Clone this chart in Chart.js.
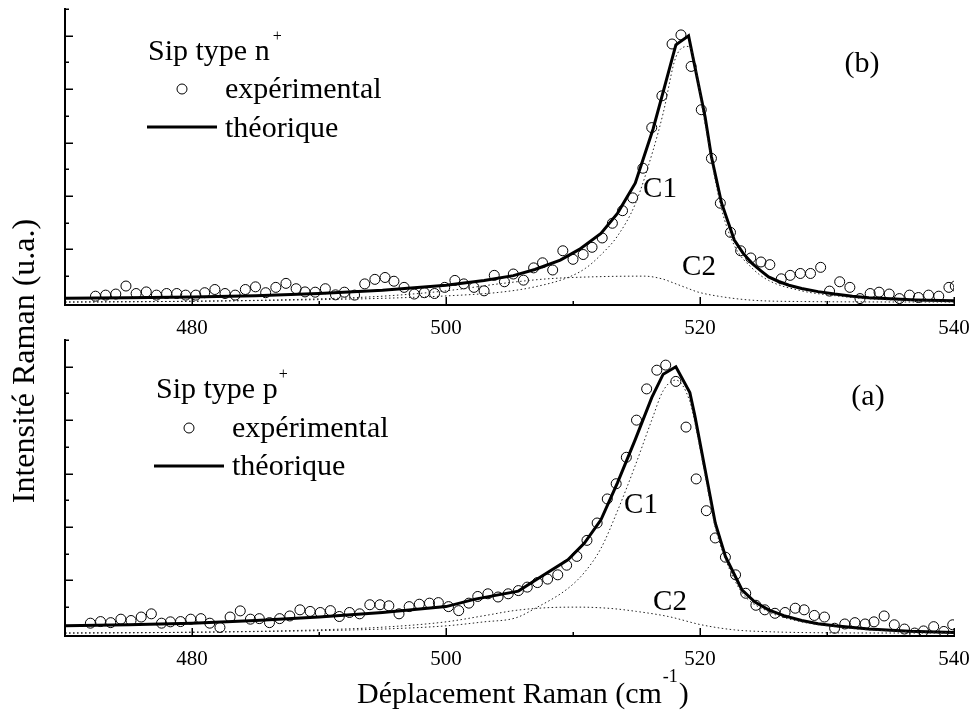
<!DOCTYPE html>
<html>
<head>
<meta charset="utf-8">
<title>Spectres Raman - Sip type n+ / p+</title>
<script src="https://cdn.jsdelivr.net/npm/chart.js@4.4.1/dist/chart.umd.min.js"></script>
<style>
  html, body { margin: 0; padding: 0; background: #fff; }
  #wrap { position: relative; width: 972px; height: 720px; }
  #wrap canvas { position: absolute; left: 0; top: 0; }
</style>
</head>
<body>
<div id="wrap">
  <canvas id="panelB" width="972" height="720"></canvas>
  <canvas id="panelA" width="972" height="720"></canvas>
</div>
<script>
// ---------- Axis ticks ----------
const xTickLabels = [480, 500, 520, 540];

// ---------- (b) Sip type n+ ----------
const nExpX = [472.4, 473.2, 474.0, 474.8, 475.6, 476.4, 477.2, 478.0, 478.8, 479.5,
  480.3, 481.0, 481.8, 482.6, 483.4, 484.2, 485.0, 485.8, 486.6, 487.4,
  488.2, 488.9, 489.7, 490.5, 491.3, 492.0, 492.8, 493.6, 494.4, 495.2,
  495.9, 496.7, 497.5, 498.3, 499.1, 499.9, 500.7, 501.4, 502.2, 503.0,
  503.8, 504.6, 505.3, 506.1, 506.9, 507.6, 508.4, 509.2, 510.0, 510.8,
  511.5, 512.3, 513.1, 513.9, 514.7, 515.5, 516.2, 517.0, 517.8, 518.5,
  519.3, 520.1, 520.9, 521.6, 522.4, 523.2, 524.0, 524.8, 525.5, 526.4,
  527.1, 527.9, 528.7, 529.5, 530.2, 531.0, 531.8, 532.6, 533.4, 534.1,
  534.9, 535.7, 536.5, 537.2, 538.0, 538.8, 539.6, 540.1];
const nExpY = [0.25, 0.29, 0.33, 0.63, 0.35, 0.41, 0.29, 0.35, 0.35, 0.29,
  0.29, 0.38, 0.50, 0.35, 0.29, 0.50, 0.60, 0.38, 0.58, 0.73,
  0.53, 0.41, 0.40, 0.53, 0.30, 0.40, 0.29, 0.71, 0.88, 0.95,
  0.81, 0.58, 0.33, 0.38, 0.35, 0.58, 0.84, 0.71, 0.58, 0.45,
  1.03, 0.79, 1.08, 0.85, 1.31, 1.50, 1.23, 1.95, 1.63, 1.81,
  2.08, 2.43, 2.98, 3.45, 3.93, 5.04, 6.56, 7.75, 9.69, 10.03,
  8.85, 7.23, 5.41, 3.73, 2.64, 1.95, 1.68, 1.53, 1.43, 0.90,
  1.03, 1.10, 1.10, 1.33, 0.44, 0.79, 0.58, 0.16, 0.35, 0.40,
  0.33, 0.16, 0.29, 0.20, 0.29, 0.25, 0.58, 0.63];

const nFitX = [470, 475, 480, 485, 490, 495, 500, 503, 505.3, 507, 509, 510.5, 512.2, 513.5,
  514.9, 516.3, 517.1, 518.1, 519.1, 520.4, 520.9, 521.7, 522.7, 523.4, 524.1, 524.8,
  525.4, 526.2, 527.0, 528.0, 529.3, 530.6, 532.0, 533.3, 535.0, 537.0, 540];
const nFitY = [0.17, 0.19, 0.22, 0.27, 0.35, 0.47, 0.66, 0.84, 1.02, 1.25, 1.60, 2.00, 2.60, 3.35,
  4.48, 6.50, 7.90, 9.66, 10.00, 6.97, 5.47, 3.73, 2.35, 1.85, 1.48, 1.20,
  0.97, 0.80, 0.66, 0.54, 0.42, 0.33, 0.25, 0.19, 0.15, 0.11, 0.08];

const nC1X = [470, 480, 490, 495, 500, 504.3, 507, 509.6, 511, 512.2, 513.5, 514.9, 516.3,
  517.1, 518.1, 519.1, 520.4, 521.0, 521.7, 522.7, 524.1, 525.4, 528, 530.6, 533.3, 540];
const nC1Y = [0.03, 0.06, 0.12, 0.17, 0.26, 0.40, 0.60, 0.95, 1.30, 1.80, 2.50, 3.70, 5.70,
  7.10, 9.20, 9.60, 6.70, 5.10, 3.50, 2.15, 1.30, 0.84, 0.45, 0.27, 0.15, 0.05];

const nC2X = [470, 480, 490, 495, 500, 504.3, 508, 512, 515.6, 517, 518, 519, 519.8, 521.7, 524.1, 528, 540];
const nC2Y = [0.03, 0.06, 0.15, 0.25, 0.45, 0.72, 0.90, 0.98, 1.00, 0.90, 0.73, 0.55, 0.41, 0.23, 0.10, 0.05, 0.03];

// ---------- (a) Sip type p+ ----------
const pExpX = [472.0, 472.8, 473.6, 474.4, 475.2, 476.0, 476.8, 477.6, 478.3, 479.1,
  479.9, 480.7, 481.4, 482.2, 483.0, 483.8, 484.6, 485.3, 486.1, 486.9,
  487.7, 488.5, 489.3, 490.1, 490.9, 491.6, 492.4, 493.2, 494.0, 494.8,
  495.5, 496.3, 497.1, 497.9, 498.7, 499.4, 500.2, 501.0, 501.8, 502.5,
  503.3, 504.1, 504.9, 505.7, 506.4, 507.2, 508.0, 508.8, 509.5, 510.3,
  511.1, 511.9, 512.7, 513.4, 514.2, 515.0, 515.8, 516.6, 517.3, 518.1,
  518.9, 519.7, 520.5, 521.2, 522.0, 522.8, 523.6, 524.4, 525.1, 525.9,
  526.7, 527.5, 528.2, 529.0, 529.8, 530.6, 531.4, 532.2, 533.0, 533.7,
  534.5, 535.3, 536.1, 536.9, 537.6, 538.4, 539.2, 539.9];
const pExpY = [0.40, 0.46, 0.42, 0.55, 0.50, 0.63, 0.75, 0.40, 0.45, 0.46,
  0.55, 0.57, 0.40, 0.24, 0.63, 0.86, 0.55, 0.57, 0.42, 0.57,
  0.67, 0.90, 0.84, 0.80, 0.87, 0.65, 0.80, 0.75, 1.09, 1.09,
  1.05, 0.75, 1.02, 1.11, 1.15, 1.17, 1.02, 0.87, 1.15, 1.40,
  1.50, 1.38, 1.50, 1.62, 1.75, 1.92, 2.05, 2.21, 2.57, 2.90,
  3.50, 4.15, 5.05, 5.62, 6.61, 8.00, 9.17, 9.87, 10.06, 9.45,
  7.74, 5.80, 4.61, 3.59, 2.87, 2.21, 1.52, 1.07, 0.90, 0.77,
  0.80, 0.96, 0.90, 0.69, 0.63, 0.21, 0.37, 0.42, 0.37, 0.45,
  0.67, 0.34, 0.18, 0.03, 0.11, 0.27, 0.09, 0.34];

const pFitX = [470, 475, 480, 485, 490, 495, 500, 502.3, 505.7, 507, 509.6, 510.9, 512.2, 513.5,
  514.9, 516.2, 517.1, 518.1, 519.2, 519.6, 520.4, 521.2, 522.0, 523.3, 524.3, 525.4,
  526.6, 528.0, 529.3, 530.6, 533.3, 536.5, 540];
const pFitY = [0.30, 0.34, 0.40, 0.50, 0.63, 0.80, 1.02, 1.30, 1.60, 2.00, 2.77, 3.40, 4.27, 5.65,
  7.27, 8.84, 9.72, 10.00, 9.03, 8.15, 6.15, 4.15, 2.90, 1.65, 1.20, 0.90,
  0.68, 0.50, 0.38, 0.30, 0.18, 0.10, 0.05];

const pC1X = [470, 480, 490, 495, 500, 503, 505.5, 507, 509.6, 510.9, 512.2, 513.5, 514.9, 516.2,
  517.1, 518.1, 519.2, 519.6, 520.4, 521.2, 522.0, 523.3, 525.4, 528, 530.6, 533.3, 540];
const pC1Y = [0.03, 0.06, 0.12, 0.18, 0.30, 0.45, 0.60, 0.95, 1.70, 2.30, 3.20, 4.60, 6.30, 8.00,
  9.10, 9.50, 8.70, 7.90, 5.95, 4.00, 2.80, 1.55, 0.83, 0.45, 0.27, 0.15, 0.04];

const pC2X = [470, 480, 490, 495, 500, 503, 505.5, 508, 510.5, 513, 515, 517.5, 520.1, 522.7, 525.4, 530, 540];
const pC2Y = [0.03, 0.06, 0.15, 0.25, 0.45, 0.68, 0.88, 0.98, 1.00, 0.95, 0.84, 0.65, 0.34, 0.15, 0.08, 0.04, 0.03];

// ---------- drawing helpers ----------
const SERIF = '"Liberation Serif", "Times New Roman", "DejaVu Serif", serif';
const AXIS_H = 40;
const toPoints = (xs, ys) => xs.map((x, i) => ({ x: x, y: ys[i] }));

// Tick marks pointing into the plot area, long on labelled values
const innerTicks = {
  id: 'innerTicks',
  afterDraw(chart) {
    const { ctx, chartArea: a, scales: { x, y } } = chart;
    ctx.save();
    ctx.strokeStyle = '#000';
    ctx.lineWidth = 1.5;
    ctx.beginPath();
    x.ticks.forEach(t => {
      const px = Math.round(x.getPixelForValue(t.value)) + 0.25;
      const len = xTickLabels.includes(t.value) ? 8 : 4;
      ctx.moveTo(px, a.bottom);
      ctx.lineTo(px, a.bottom - len);
    });
    y.ticks.forEach(t => {
      if (Math.abs(t.value - Math.round(t.value)) > 1e-6) return;
      const py = Math.round(y.getPixelForValue(t.value)) + 0.25;
      const len = Math.round(t.value) % 2 === 0 ? 8 : 4;
      ctx.moveTo(a.left, py);
      ctx.lineTo(a.left + len, py);
    });
    ctx.stroke();
    ctx.restore();
  }
};

function textWithSup(ctx, base, sup, x, y, size, supSize, rise, gap, tail) {
  ctx.font = size + 'px ' + SERIF;
  ctx.fillText(base, x, y);
  let cx = x + ctx.measureText(base).width + gap;
  ctx.font = supSize + 'px ' + SERIF;
  ctx.fillText(sup, cx, y - rise);
  cx += ctx.measureText(sup).width;
  if (tail) {
    ctx.font = size + 'px ' + SERIF;
    ctx.fillText(tail, cx + 1, y);
  }
}

// Legend block, component labels and panel letter drawn inside each panel
function panelText(cfg) {
  return {
    id: 'panelText',
    afterDraw(chart) {
      const ctx = chart.ctx;
      ctx.save();
      ctx.fillStyle = '#000';
      ctx.strokeStyle = '#000';
      ctx.textAlign = 'left';
      ctx.textBaseline = 'alphabetic';
      const L = cfg.legend;
      textWithSup(ctx, L.title, '+', L.tx, L.ty, 30, 16, 19, L.supGap);
      ctx.lineWidth = 1;
      ctx.beginPath();
      ctx.arc(L.cx, L.cy, 5, 0, Math.PI * 2);
      ctx.stroke();
      ctx.font = '30px ' + SERIF;
      ctx.fillText('expérimental', L.ex, L.ey);
      ctx.lineWidth = 3;
      ctx.beginPath();
      ctx.moveTo(L.lx1, L.ly);
      ctx.lineTo(L.lx2, L.ly);
      ctx.stroke();
      ctx.fillText('théorique', L.ex, L.thy);
      ctx.textAlign = 'center';
      ctx.textBaseline = 'middle';
      cfg.marks.forEach(m => {
        ctx.font = m.size + 'px ' + SERIF;
        ctx.fillText(m.text, m.x, m.y);
      });
      if (cfg.titles) {
        // y axis title shared by both panels
        ctx.save();
        ctx.translate(34, 361);
        ctx.rotate(-Math.PI / 2);
        ctx.textAlign = 'center';
        ctx.textBaseline = 'alphabetic';
        ctx.font = '32px ' + SERIF;
        ctx.fillText('Intensité Raman (u.a.)', 0, 0);
        ctx.restore();
        // x axis title with superscript unit
        ctx.textAlign = 'left';
        ctx.textBaseline = 'alphabetic';
        textWithSup(ctx, 'Déplacement Raman (cm', '-1', 357, 703, 30, 18, 21, 1, ')');
      }
      ctx.restore();
    }
  };
}

function buildPanel(id, d, area, cfg) {
  return new Chart(document.getElementById(id), {
    type: 'scatter',
    data: {
      datasets: [
        { label: 'C1', data: toPoints(d.c1x, d.c1y), showLine: true, borderColor: '#222',
          borderWidth: 1, borderDash: [1.5, 2.5], pointRadius: 0, cubicInterpolationMode: 'monotone' },
        { label: 'C2', data: toPoints(d.c2x, d.c2y), showLine: true, borderColor: '#222',
          borderWidth: 1, borderDash: [1.5, 2.5], pointRadius: 0, cubicInterpolationMode: 'monotone' },
        { label: 'théorique', data: toPoints(d.fitx, d.fity), showLine: true, borderColor: '#000',
          borderWidth: 3, pointRadius: 0, tension: 0 },
        { label: 'expérimental', data: toPoints(d.expx, d.expy), showLine: false,
          pointStyle: 'circle', pointRadius: 5, pointBorderWidth: 1,
          pointBorderColor: '#000', pointBackgroundColor: 'rgba(0,0,0,0)' }
      ]
    },
    options: {
      responsive: false,
      animation: false,
      devicePixelRatio: 1,
      events: [],
      layout: { padding: { left: area.left, right: 972 - area.right, top: area.top, bottom: 720 - area.bottom - AXIS_H } },
      plugins: { legend: { display: false }, tooltip: { enabled: false } },
      scales: {
        x: {
          type: 'linear', min: 470, max: 540,
          grid: { display: false },
          border: { display: true, color: '#000', width: 2 },
          ticks: {
            stepSize: 10, autoSkip: false, maxRotation: 0, padding: 3, color: '#000',
            font: { family: SERIF, size: 21 },
            callback: v => xTickLabels.includes(v) ? String(v) : ''
          },
          afterFit: s => { s.height = AXIS_H; s.paddingLeft = 0; s.paddingRight = 0; }
        },
        y: {
          type: 'linear', min: -0.08, max: 11,
          grid: { display: false },
          border: { display: true, color: '#000', width: 2 },
          ticks: { display: false, stepSize: 1 },
          afterFit: s => { s.width = 0; s.paddingTop = 0; s.paddingBottom = 0; }
        }
      }
    },
    plugins: [innerTicks, panelText(cfg)]
  });
}

buildPanel('panelB',
  { expx: nExpX, expy: nExpY, fitx: nFitX, fity: nFitY, c1x: nC1X, c1y: nC1Y, c2x: nC2X, c2y: nC2Y },
  { left: 65, right: 954, top: 9, bottom: 305 },
  {
    legend: { title: 'Sip type n', tx: 148, ty: 60, supGap: 3, cx: 182, cy: 89, ex: 225, ey: 98,
              lx1: 147, lx2: 217, ly: 127, thy: 137 },
    marks: [
      { text: '(b)', x: 862, y: 64, size: 30 },
      { text: 'C1', x: 660, y: 189, size: 29 },
      { text: 'C2', x: 699, y: 267, size: 29 }
    ],
    titles: true
  });

buildPanel('panelA',
  { expx: pExpX, expy: pExpY, fitx: pFitX, fity: pFitY, c1x: pC1X, c1y: pC1Y, c2x: pC2X, c2y: pC2Y },
  { left: 65, right: 954, top: 340, bottom: 636 },
  {
    legend: { title: 'Sip type p', tx: 156, ty: 398, supGap: 1, cx: 189, cy: 428, ex: 232, ey: 437,
              lx1: 154, lx2: 224, ly: 466, thy: 475 },
    marks: [
      { text: '(a)', x: 868, y: 397, size: 30 },
      { text: 'C1', x: 641, y: 505, size: 29 },
      { text: 'C2', x: 670, y: 602, size: 29 }
    ],
    titles: false
  });
</script>
</body>
</html>
